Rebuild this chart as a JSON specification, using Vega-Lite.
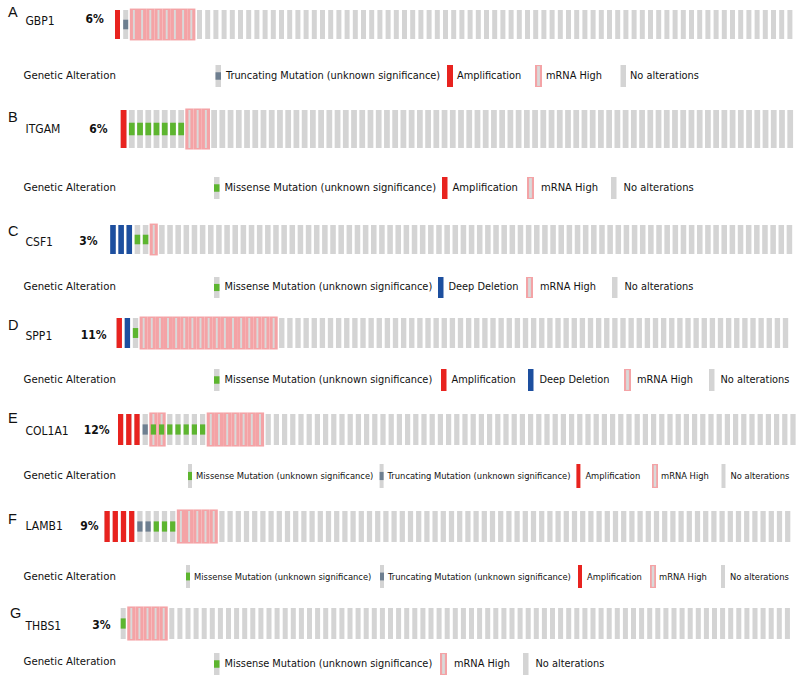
{
"$schema": "https://vega.github.io/schema/vega-lite/v6.json",
"background": "white",
"padding": {"left": 8, "top": 0, "right": 0, "bottom": 0},
"spacing": 0,
"bounds": "flush",
"config": {"view": {"stroke": null}, "axis": {"ticks": false, "tickSize": 0, "domain": false, "grid": false}},
"datasets": {
"A": [{"id":0,"cna":"Amplification"},{"id":1,"mut":"Truncating"},{"id":2,"mrna":"mRNA High"},{"id":3,"mrna":"mRNA High"},{"id":4,"mrna":"mRNA High"},{"id":5,"mrna":"mRNA High"},{"id":6,"mrna":"mRNA High"},{"id":7,"mrna":"mRNA High"},{"id":8,"mrna":"mRNA High"},{"id":9,"mrna":"mRNA High"},{"id":10},{"id":11},{"id":12},{"id":13},{"id":14},{"id":15},{"id":16},{"id":17},{"id":18},{"id":19},{"id":20},{"id":21},{"id":22},{"id":23},{"id":24},{"id":25},{"id":26},{"id":27},{"id":28},{"id":29},{"id":30},{"id":31},{"id":32},{"id":33},{"id":34},{"id":35},{"id":36},{"id":37},{"id":38},{"id":39},{"id":40},{"id":41},{"id":42},{"id":43},{"id":44},{"id":45},{"id":46},{"id":47},{"id":48},{"id":49},{"id":50},{"id":51},{"id":52},{"id":53},{"id":54},{"id":55},{"id":56},{"id":57},{"id":58},{"id":59},{"id":60},{"id":61},{"id":62},{"id":63},{"id":64},{"id":65},{"id":66},{"id":67},{"id":68},{"id":69},{"id":70},{"id":71},{"id":72},{"id":73},{"id":74},{"id":75},{"id":76},{"id":77},{"id":78},{"id":79},{"id":80},{"id":81},{"id":82}],
"B": [{"id":0,"cna":"Amplification"},{"id":1,"mut":"Missense"},{"id":2,"mut":"Missense"},{"id":3,"mut":"Missense"},{"id":4,"mut":"Missense"},{"id":5,"mut":"Missense"},{"id":6,"mut":"Missense"},{"id":7,"mut":"Missense"},{"id":8,"mrna":"mRNA High"},{"id":9,"mrna":"mRNA High"},{"id":10,"mrna":"mRNA High"},{"id":11},{"id":12},{"id":13},{"id":14},{"id":15},{"id":16},{"id":17},{"id":18},{"id":19},{"id":20},{"id":21},{"id":22},{"id":23},{"id":24},{"id":25},{"id":26},{"id":27},{"id":28},{"id":29},{"id":30},{"id":31},{"id":32},{"id":33},{"id":34},{"id":35},{"id":36},{"id":37},{"id":38},{"id":39},{"id":40},{"id":41},{"id":42},{"id":43},{"id":44},{"id":45},{"id":46},{"id":47},{"id":48},{"id":49},{"id":50},{"id":51},{"id":52},{"id":53},{"id":54},{"id":55},{"id":56},{"id":57},{"id":58},{"id":59},{"id":60},{"id":61},{"id":62},{"id":63},{"id":64},{"id":65},{"id":66},{"id":67},{"id":68},{"id":69},{"id":70},{"id":71},{"id":72},{"id":73},{"id":74},{"id":75},{"id":76},{"id":77},{"id":78},{"id":79},{"id":80},{"id":81}],
"C": [{"id":0,"cna":"Deep Deletion"},{"id":1,"cna":"Deep Deletion"},{"id":2,"cna":"Deep Deletion"},{"id":3,"mut":"Missense"},{"id":4,"mut":"Missense"},{"id":5,"mrna":"mRNA High"},{"id":6},{"id":7},{"id":8},{"id":9},{"id":10},{"id":11},{"id":12},{"id":13},{"id":14},{"id":15},{"id":16},{"id":17},{"id":18},{"id":19},{"id":20},{"id":21},{"id":22},{"id":23},{"id":24},{"id":25},{"id":26},{"id":27},{"id":28},{"id":29},{"id":30},{"id":31},{"id":32},{"id":33},{"id":34},{"id":35},{"id":36},{"id":37},{"id":38},{"id":39},{"id":40},{"id":41},{"id":42},{"id":43},{"id":44},{"id":45},{"id":46},{"id":47},{"id":48},{"id":49},{"id":50},{"id":51},{"id":52},{"id":53},{"id":54},{"id":55},{"id":56},{"id":57},{"id":58},{"id":59},{"id":60},{"id":61},{"id":62},{"id":63},{"id":64},{"id":65},{"id":66},{"id":67},{"id":68},{"id":69},{"id":70},{"id":71},{"id":72},{"id":73},{"id":74},{"id":75},{"id":76},{"id":77},{"id":78},{"id":79},{"id":80},{"id":81},{"id":82},{"id":83}],
"D": [{"id":0,"cna":"Amplification"},{"id":1,"cna":"Deep Deletion"},{"id":2,"mut":"Missense"},{"id":3,"mrna":"mRNA High"},{"id":4,"mrna":"mRNA High"},{"id":5,"mrna":"mRNA High"},{"id":6,"mrna":"mRNA High"},{"id":7,"mrna":"mRNA High"},{"id":8,"mrna":"mRNA High"},{"id":9,"mrna":"mRNA High"},{"id":10,"mrna":"mRNA High"},{"id":11,"mrna":"mRNA High"},{"id":12,"mrna":"mRNA High"},{"id":13,"mrna":"mRNA High"},{"id":14,"mrna":"mRNA High"},{"id":15,"mrna":"mRNA High"},{"id":16,"mrna":"mRNA High"},{"id":17,"mrna":"mRNA High"},{"id":18,"mrna":"mRNA High"},{"id":19,"mrna":"mRNA High"},{"id":20},{"id":21},{"id":22},{"id":23},{"id":24},{"id":25},{"id":26},{"id":27},{"id":28},{"id":29},{"id":30},{"id":31},{"id":32},{"id":33},{"id":34},{"id":35},{"id":36},{"id":37},{"id":38},{"id":39},{"id":40},{"id":41},{"id":42},{"id":43},{"id":44},{"id":45},{"id":46},{"id":47},{"id":48},{"id":49},{"id":50},{"id":51},{"id":52},{"id":53},{"id":54},{"id":55},{"id":56},{"id":57},{"id":58},{"id":59},{"id":60},{"id":61},{"id":62},{"id":63},{"id":64},{"id":65},{"id":66},{"id":67},{"id":68},{"id":69},{"id":70},{"id":71},{"id":72},{"id":73},{"id":74},{"id":75},{"id":76},{"id":77},{"id":78},{"id":79},{"id":80},{"id":81},{"id":82}],
"E": [{"id":0,"cna":"Amplification"},{"id":1,"cna":"Amplification"},{"id":2,"cna":"Amplification"},{"id":3,"mut":"Truncating"},{"id":4,"mut":"Missense","mrna":"mRNA High"},{"id":5,"mut":"Missense","mrna":"mRNA High"},{"id":6,"mut":"Missense"},{"id":7,"mut":"Missense"},{"id":8,"mut":"Missense"},{"id":9,"mut":"Missense"},{"id":10,"mut":"Missense"},{"id":11,"mrna":"mRNA High"},{"id":12,"mrna":"mRNA High"},{"id":13,"mrna":"mRNA High"},{"id":14,"mrna":"mRNA High"},{"id":15,"mrna":"mRNA High"},{"id":16,"mrna":"mRNA High"},{"id":17,"mrna":"mRNA High"},{"id":18},{"id":19},{"id":20},{"id":21},{"id":22},{"id":23},{"id":24},{"id":25},{"id":26},{"id":27},{"id":28},{"id":29},{"id":30},{"id":31},{"id":32},{"id":33},{"id":34},{"id":35},{"id":36},{"id":37},{"id":38},{"id":39},{"id":40},{"id":41},{"id":42},{"id":43},{"id":44},{"id":45},{"id":46},{"id":47},{"id":48},{"id":49},{"id":50},{"id":51},{"id":52},{"id":53},{"id":54},{"id":55},{"id":56},{"id":57},{"id":58},{"id":59},{"id":60},{"id":61},{"id":62},{"id":63},{"id":64},{"id":65},{"id":66},{"id":67},{"id":68},{"id":69},{"id":70},{"id":71},{"id":72},{"id":73},{"id":74},{"id":75},{"id":76},{"id":77},{"id":78},{"id":79},{"id":80},{"id":81},{"id":82}],
"F": [{"id":0,"cna":"Amplification"},{"id":1,"cna":"Amplification"},{"id":2,"cna":"Amplification"},{"id":3,"cna":"Amplification"},{"id":4,"mut":"Truncating"},{"id":5,"mut":"Truncating"},{"id":6,"mut":"Missense"},{"id":7,"mut":"Missense"},{"id":8,"mut":"Missense"},{"id":9,"mrna":"mRNA High"},{"id":10,"mrna":"mRNA High"},{"id":11,"mrna":"mRNA High"},{"id":12,"mrna":"mRNA High"},{"id":13,"mrna":"mRNA High"},{"id":14},{"id":15},{"id":16},{"id":17},{"id":18},{"id":19},{"id":20},{"id":21},{"id":22},{"id":23},{"id":24},{"id":25},{"id":26},{"id":27},{"id":28},{"id":29},{"id":30},{"id":31},{"id":32},{"id":33},{"id":34},{"id":35},{"id":36},{"id":37},{"id":38},{"id":39},{"id":40},{"id":41},{"id":42},{"id":43},{"id":44},{"id":45},{"id":46},{"id":47},{"id":48},{"id":49},{"id":50},{"id":51},{"id":52},{"id":53},{"id":54},{"id":55},{"id":56},{"id":57},{"id":58},{"id":59},{"id":60},{"id":61},{"id":62},{"id":63},{"id":64},{"id":65},{"id":66},{"id":67},{"id":68},{"id":69},{"id":70},{"id":71},{"id":72},{"id":73},{"id":74},{"id":75},{"id":76},{"id":77},{"id":78},{"id":79},{"id":80},{"id":81},{"id":82},{"id":83}],
"G": [{"id":0,"mut":"Missense"},{"id":1,"mrna":"mRNA High"},{"id":2,"mrna":"mRNA High"},{"id":3,"mrna":"mRNA High"},{"id":4,"mrna":"mRNA High"},{"id":5,"mrna":"mRNA High"},{"id":6},{"id":7},{"id":8},{"id":9},{"id":10},{"id":11},{"id":12},{"id":13},{"id":14},{"id":15},{"id":16},{"id":17},{"id":18},{"id":19},{"id":20},{"id":21},{"id":22},{"id":23},{"id":24},{"id":25},{"id":26},{"id":27},{"id":28},{"id":29},{"id":30},{"id":31},{"id":32},{"id":33},{"id":34},{"id":35},{"id":36},{"id":37},{"id":38},{"id":39},{"id":40},{"id":41},{"id":42},{"id":43},{"id":44},{"id":45},{"id":46},{"id":47},{"id":48},{"id":49},{"id":50},{"id":51},{"id":52},{"id":53},{"id":54},{"id":55},{"id":56},{"id":57},{"id":58},{"id":59},{"id":60},{"id":61},{"id":62},{"id":63},{"id":64},{"id":65},{"id":66},{"id":67},{"id":68},{"id":69},{"id":70},{"id":71},{"id":72},{"id":73},{"id":74},{"id":75},{"id":76},{"id":77},{"id":78},{"id":79},{"id":80},{"id":81},{"id":82}]
},
"vconcat": [
{"width": 691, "height": 39, "data": {"name": "A"},
 "title": {"text": "A", "anchor": "start", "frame": "group", "orient": "top", "offset": 0, "dx": -95, "dy": 31.7, "baseline": "alphabetic", "font": "Liberation Sans", "fontSize": 14.5, "fontWeight": "normal", "color": "#111"},
 "encoding": {"x": {"field": "id", "type": "ordinal", "axis": null, "scale": {"paddingInner": 0, "paddingOuter": 0.634, "align": 1}},
  "y": {"datum": "6%", "type": "nominal", "scale": {"paddingInner": 0, "paddingOuter": 0.1724, "align": 1}, "axis": {"title": "GBP1", "titleAngle": 0, "titleAlign": "left", "titleBaseline": "middle", "titleX": -78, "titleY": 20, "titleFont": "Liberation Sans Narrow, DejaVu Sans Condensed, sans-serif", "titleFontSize": 12, "titleFontWeight": "normal", "titleColor": "#111", "labelFont": "Liberation Sans Narrow, DejaVu Sans Condensed, sans-serif", "labelFontSize": 12, "labelFontWeight": "bold", "labelColor": "#111", "labelPadding": -0.3, "labelOffset": -5}}},
 "layer": [
  {"mark": {"type": "rect", "width": {"band": 0.61}, "color": "#d4d4d4"}},
  {"transform": [{"filter": "datum.mrna"}], "mark": {"type": "rect", "height": {"band": 1.1}}, "encoding": {"color": {"field": "mrna", "type": "nominal", "scale": {"domain": ["Missense","Truncating","Amplification","Deep Deletion","mRNA High","No alterations"], "range": ["#5db52f","#6e7f90","#e8231f","#1d4f9f","#f4a3a6","#d4d4d4"]}, "legend": null}}},
  {"transform": [{"filter": "datum.mrna"}], "mark": {"type": "rect", "width": {"band": 0.24}, "color": "#d9d9d9"}},
  {"transform": [{"filter": "datum.cna"}], "mark": {"type": "rect", "width": {"band": 0.61}}, "encoding": {"color": {"field": "cna", "type": "nominal", "scale": {"domain": ["Missense","Truncating","Amplification","Deep Deletion","mRNA High","No alterations"], "range": ["#5db52f","#6e7f90","#e8231f","#1d4f9f","#f4a3a6","#d4d4d4"]}, "legend": null}}},
  {"transform": [{"filter": "datum.mut"}], "mark": {"type": "rect", "width": {"band": 0.61}, "height": {"band": 0.33}}, "encoding": {"color": {"field": "mut", "type": "nominal", "scale": {"domain": ["Missense","Truncating","Amplification","Deep Deletion","mRNA High","No alterations"], "range": ["#5db52f","#6e7f90","#e8231f","#1d4f9f","#f4a3a6","#d4d4d4"]}, "legend": null}}}
 ]},
{"width": 690, "height": 48,
 "encoding": {"y": {"datum": "Genetic Alteration", "type": "nominal", "scale": {"paddingInner": 0, "paddingOuter": 0.5909, "align": 1}, "axis": {"title": null, "labelAlign": "left", "labelPadding": 80, "labelLimit": 0, "labelFont": "Liberation Sans Narrow, DejaVu Sans Condensed, sans-serif", "labelFontSize": 11.3, "labelColor": "#111"}}},
 "resolve": {"scale": {"x": "independent"}},
 "layer": [
  {"data": {"values": [{"alt": "Truncating", "label": "Truncating Mutation (unknown significance)"}]},
   "encoding": {"x": {"field": "alt", "type": "nominal", "axis": null, "scale": {"paddingInner": 0.98393, "paddingOuter": 1, "align": 0.16435}}},
   "layer": [
    {"mark": {"type": "rect", "color": "#d4d4d4"}},
    {"mark": {"type": "rect", "height": {"band": 0.34}}, "encoding": {"color": {"field": "alt", "type": "nominal", "scale": {"domain": ["Missense","Truncating","Amplification","Deep Deletion","mRNA High","No alterations"], "range": ["#5db52f","#6e7f90","#e8231f","#1d4f9f","#f4a3a6","#d4d4d4"]}, "legend": null}}},
    {"mark": {"type": "text", "align": "left", "baseline": "middle", "dx": 5, "font": "Liberation Sans Narrow, DejaVu Sans Condensed, sans-serif", "fontSize": 10.9, "color": "#111"}, "encoding": {"x": {"field": "alt", "type": "nominal", "bandPosition": 1}, "text": {"field": "label"}}}
   ]},
  {"data": {"values": [{"alt": "Amplification", "label": "Amplification"}]},
   "encoding": {"x": {"field": "alt", "type": "nominal", "axis": null, "scale": {"paddingInner": 0.982456, "paddingOuter": 1, "align": 0.50292}}},
   "layer": [
    {"mark": {"type": "rect"}, "encoding": {"color": {"field": "alt", "type": "nominal", "scale": {"domain": ["Missense","Truncating","Amplification","Deep Deletion","mRNA High","No alterations"], "range": ["#5db52f","#6e7f90","#e8231f","#1d4f9f","#f4a3a6","#d4d4d4"]}, "legend": null}}},
    {"mark": {"type": "text", "align": "left", "baseline": "middle", "dx": 4, "font": "Liberation Sans Narrow, DejaVu Sans Condensed, sans-serif", "fontSize": 10.9, "color": "#111"}, "encoding": {"x": {"field": "alt", "type": "nominal", "bandPosition": 1}, "text": {"field": "label"}}}
   ]},
  {"data": {"values": [{"alt": "mRNA High", "label": "mRNA High"}]},
   "encoding": {"x": {"field": "alt", "type": "nominal", "axis": null, "scale": {"paddingInner": 0.979502, "paddingOuter": 1, "align": 0.6325}}},
   "layer": [
    {"mark": {"type": "rect"}, "encoding": {"color": {"field": "alt", "type": "nominal", "scale": {"domain": ["Missense","Truncating","Amplification","Deep Deletion","mRNA High","No alterations"], "range": ["#5db52f","#6e7f90","#e8231f","#1d4f9f","#f4a3a6","#d4d4d4"]}, "legend": null}}},
    {"mark": {"type": "rect", "width": {"band": 0.4}, "height": {"band": 0.9}, "color": "#d9d9d9"}},
    {"mark": {"type": "text", "align": "left", "baseline": "middle", "dx": 4, "font": "Liberation Sans Narrow, DejaVu Sans Condensed, sans-serif", "fontSize": 10.9, "color": "#111"}, "encoding": {"x": {"field": "alt", "type": "nominal", "bandPosition": 1}, "text": {"field": "label"}}}
   ]},
  {"data": {"values": [{"alt": "No alterations", "label": "No alterations"}]},
   "encoding": {"x": {"field": "alt", "type": "nominal", "axis": null, "scale": {"paddingInner": 0.98393, "paddingOuter": 1, "align": 0.75603}}},
   "layer": [
    {"mark": {"type": "rect"}, "encoding": {"color": {"field": "alt", "type": "nominal", "scale": {"domain": ["Missense","Truncating","Amplification","Deep Deletion","mRNA High","No alterations"], "range": ["#5db52f","#6e7f90","#e8231f","#1d4f9f","#f4a3a6","#d4d4d4"]}, "legend": null}}},
    {"mark": {"type": "text", "align": "left", "baseline": "middle", "dx": 4, "font": "Liberation Sans Narrow, DejaVu Sans Condensed, sans-serif", "fontSize": 10.9, "color": "#111"}, "encoding": {"x": {"field": "alt", "type": "nominal", "bandPosition": 1}, "text": {"field": "label"}}}
   ]}
 ]},
{"width": 691.32, "height": 61, "data": {"name": "B"},
 "title": {"text": "B", "anchor": "start", "frame": "group", "orient": "top", "offset": 0, "dx": -95, "dy": 49.4, "baseline": "alphabetic", "font": "Liberation Sans", "fontSize": 14.5, "fontWeight": "normal", "color": "#111"},
 "encoding": {"x": {"field": "id", "type": "ordinal", "axis": null, "scale": {"paddingInner": 0, "paddingOuter": 1, "align": 1}},
  "y": {"datum": "6%", "type": "nominal", "scale": {"paddingInner": 0, "paddingOuter": 0.3026, "align": 1}, "axis": {"title": "ITGAM", "titleAngle": 0, "titleAlign": "left", "titleBaseline": "middle", "titleX": -78, "titleY": 41, "titleFont": "Liberation Sans Narrow, DejaVu Sans Condensed, sans-serif", "titleFontSize": 12, "titleFontWeight": "normal", "titleColor": "#111", "labelFont": "Liberation Sans Narrow, DejaVu Sans Condensed, sans-serif", "labelFontSize": 12, "labelFontWeight": "bold", "labelColor": "#111", "labelPadding": -4, "labelOffset": 0}}},
 "layer": [
  {"mark": {"type": "rect", "width": {"band": 0.7}, "color": "#d4d4d4"}},
  {"transform": [{"filter": "datum.mrna"}], "mark": {"type": "rect", "height": {"band": 1.08}}, "encoding": {"color": {"field": "mrna", "type": "nominal", "scale": {"domain": ["Missense","Truncating","Amplification","Deep Deletion","mRNA High","No alterations"], "range": ["#5db52f","#6e7f90","#e8231f","#1d4f9f","#f4a3a6","#d4d4d4"]}, "legend": null}}},
  {"transform": [{"filter": "datum.mrna"}], "mark": {"type": "rect", "width": {"band": 0.24}, "color": "#d9d9d9"}},
  {"transform": [{"filter": "datum.cna"}], "mark": {"type": "rect", "width": {"band": 0.7}}, "encoding": {"color": {"field": "cna", "type": "nominal", "scale": {"domain": ["Missense","Truncating","Amplification","Deep Deletion","mRNA High","No alterations"], "range": ["#5db52f","#6e7f90","#e8231f","#1d4f9f","#f4a3a6","#d4d4d4"]}, "legend": null}}},
  {"transform": [{"filter": "datum.mut"}], "mark": {"type": "rect", "width": {"band": 0.7}, "height": {"band": 0.33}}, "encoding": {"color": {"field": "mut", "type": "nominal", "scale": {"domain": ["Missense","Truncating","Amplification","Deep Deletion","mRNA High","No alterations"], "range": ["#5db52f","#6e7f90","#e8231f","#1d4f9f","#f4a3a6","#d4d4d4"]}, "legend": null}}}
 ]},
{"width": 690, "height": 51,
 "encoding": {"y": {"datum": "Genetic Alteration", "type": "nominal", "scale": {"paddingInner": 0, "paddingOuter": 0.6591, "align": 1}, "axis": {"title": null, "labelAlign": "left", "labelPadding": 80, "labelLimit": 0, "labelFont": "Liberation Sans Narrow, DejaVu Sans Condensed, sans-serif", "labelFontSize": 11.3, "labelColor": "#111"}}},
 "resolve": {"scale": {"x": "independent"}},
 "layer": [
  {"data": {"values": [{"alt": "Missense", "label": "Missense Mutation (unknown significance)"}]},
   "encoding": {"x": {"field": "alt", "type": "nominal", "axis": null, "scale": {"paddingInner": 0.98393, "paddingOuter": 1, "align": 0.16216}}},
   "layer": [
    {"mark": {"type": "rect", "color": "#d4d4d4"}},
    {"mark": {"type": "rect", "height": {"band": 0.34}}, "encoding": {"color": {"field": "alt", "type": "nominal", "scale": {"domain": ["Missense","Truncating","Amplification","Deep Deletion","mRNA High","No alterations"], "range": ["#5db52f","#6e7f90","#e8231f","#1d4f9f","#f4a3a6","#d4d4d4"]}, "legend": null}}},
    {"mark": {"type": "text", "align": "left", "baseline": "middle", "dx": 5, "font": "Liberation Sans Narrow, DejaVu Sans Condensed, sans-serif", "fontSize": 11.1, "color": "#111"}, "encoding": {"x": {"field": "alt", "type": "nominal", "bandPosition": 1}, "text": {"field": "label"}}}
   ]},
  {"data": {"values": [{"alt": "Amplification", "label": "Amplification"}]},
   "encoding": {"x": {"field": "alt", "type": "nominal", "axis": null, "scale": {"paddingInner": 0.98393, "paddingOuter": 1, "align": 0.49525}}},
   "layer": [
    {"mark": {"type": "rect"}, "encoding": {"color": {"field": "alt", "type": "nominal", "scale": {"domain": ["Missense","Truncating","Amplification","Deep Deletion","mRNA High","No alterations"], "range": ["#5db52f","#6e7f90","#e8231f","#1d4f9f","#f4a3a6","#d4d4d4"]}, "legend": null}}},
    {"mark": {"type": "text", "align": "left", "baseline": "middle", "dx": 5, "font": "Liberation Sans Narrow, DejaVu Sans Condensed, sans-serif", "fontSize": 11.1, "color": "#111"}, "encoding": {"x": {"field": "alt", "type": "nominal", "bandPosition": 1}, "text": {"field": "label"}}}
   ]},
  {"data": {"values": [{"alt": "mRNA High", "label": "mRNA High"}]},
   "encoding": {"x": {"field": "alt", "type": "nominal", "axis": null, "scale": {"paddingInner": 0.979502, "paddingOuter": 1, "align": 0.62079}}},
   "layer": [
    {"mark": {"type": "rect"}, "encoding": {"color": {"field": "alt", "type": "nominal", "scale": {"domain": ["Missense","Truncating","Amplification","Deep Deletion","mRNA High","No alterations"], "range": ["#5db52f","#6e7f90","#e8231f","#1d4f9f","#f4a3a6","#d4d4d4"]}, "legend": null}}},
    {"mark": {"type": "rect", "width": {"band": 0.4}, "height": {"band": 0.9}, "color": "#d9d9d9"}},
    {"mark": {"type": "text", "align": "left", "baseline": "middle", "dx": 7, "font": "Liberation Sans Narrow, DejaVu Sans Condensed, sans-serif", "fontSize": 11.1, "color": "#111"}, "encoding": {"x": {"field": "alt", "type": "nominal", "bandPosition": 1}, "text": {"field": "label"}}}
   ]},
  {"data": {"values": [{"alt": "No alterations", "label": "No alterations"}]},
   "encoding": {"x": {"field": "alt", "type": "nominal", "axis": null, "scale": {"paddingInner": 0.98393, "paddingOuter": 1, "align": 0.74215}}},
   "layer": [
    {"mark": {"type": "rect"}, "encoding": {"color": {"field": "alt", "type": "nominal", "scale": {"domain": ["Missense","Truncating","Amplification","Deep Deletion","mRNA High","No alterations"], "range": ["#5db52f","#6e7f90","#e8231f","#1d4f9f","#f4a3a6","#d4d4d4"]}, "legend": null}}},
    {"mark": {"type": "text", "align": "left", "baseline": "middle", "dx": 7, "font": "Liberation Sans Narrow, DejaVu Sans Condensed, sans-serif", "fontSize": 11.1, "color": "#111"}, "encoding": {"x": {"field": "alt", "type": "nominal", "bandPosition": 1}, "text": {"field": "label"}}}
   ]}
 ]},
{"width": 690.5, "height": 55, "data": {"name": "C"},
 "title": {"text": "C", "anchor": "start", "frame": "group", "orient": "top", "offset": 0, "dx": -95, "dy": 51.4, "baseline": "alphabetic", "font": "Liberation Sans", "fontSize": 14.5, "fontWeight": "normal", "color": "#111"},
 "encoding": {"x": {"field": "id", "type": "ordinal", "axis": null, "scale": {"paddingInner": 0, "paddingOuter": 0.362, "align": 1}},
  "y": {"datum": "3%", "type": "nominal", "scale": {"paddingInner": 0, "paddingOuter": 0.4483, "align": 1}, "axis": {"title": "CSF1", "titleAngle": 0, "titleAlign": "left", "titleBaseline": "middle", "titleX": -78, "titleY": 42, "titleFont": "Liberation Sans Narrow, DejaVu Sans Condensed, sans-serif", "titleFontSize": 12, "titleFontWeight": "normal", "titleColor": "#111", "labelFont": "Liberation Sans Narrow, DejaVu Sans Condensed, sans-serif", "labelFontSize": 12, "labelFontWeight": "bold", "labelColor": "#111", "labelPadding": 6, "labelOffset": 1}}},
 "layer": [
  {"mark": {"type": "rect", "width": {"band": 0.68}, "color": "#d4d4d4"}},
  {"transform": [{"filter": "datum.mrna"}], "mark": {"type": "rect", "height": {"band": 1.1}}, "encoding": {"color": {"field": "mrna", "type": "nominal", "scale": {"domain": ["Missense","Truncating","Amplification","Deep Deletion","mRNA High","No alterations"], "range": ["#5db52f","#6e7f90","#e8231f","#1d4f9f","#f4a3a6","#d4d4d4"]}, "legend": null}}},
  {"transform": [{"filter": "datum.mrna"}], "mark": {"type": "rect", "width": {"band": 0.24}, "color": "#d9d9d9"}},
  {"transform": [{"filter": "datum.cna"}], "mark": {"type": "rect", "width": {"band": 0.68}}, "encoding": {"color": {"field": "cna", "type": "nominal", "scale": {"domain": ["Missense","Truncating","Amplification","Deep Deletion","mRNA High","No alterations"], "range": ["#5db52f","#6e7f90","#e8231f","#1d4f9f","#f4a3a6","#d4d4d4"]}, "legend": null}}},
  {"transform": [{"filter": "datum.mut"}], "mark": {"type": "rect", "width": {"band": 0.68}, "height": {"band": 0.33}}, "encoding": {"color": {"field": "mut", "type": "nominal", "scale": {"domain": ["Missense","Truncating","Amplification","Deep Deletion","mRNA High","No alterations"], "range": ["#5db52f","#6e7f90","#e8231f","#1d4f9f","#f4a3a6","#d4d4d4"]}, "legend": null}}}
 ]},
{"width": 690, "height": 44,
 "encoding": {"y": {"datum": "Genetic Alteration", "type": "nominal", "scale": {"paddingInner": 0, "paddingOuter": 0.5476, "align": 1}, "axis": {"title": null, "labelAlign": "left", "labelPadding": 80, "labelLimit": 0, "labelFont": "Liberation Sans Narrow, DejaVu Sans Condensed, sans-serif", "labelFontSize": 11.3, "labelColor": "#111"}}},
 "resolve": {"scale": {"x": "independent"}},
 "layer": [
  {"data": {"values": [{"alt": "Missense", "label": "Missense Mutation (unknown significance)"}]},
   "encoding": {"x": {"field": "alt", "type": "nominal", "axis": null, "scale": {"paddingInner": 0.98393, "paddingOuter": 1, "align": 0.16216}}},
   "layer": [
    {"mark": {"type": "rect", "color": "#d4d4d4"}},
    {"mark": {"type": "rect", "height": {"band": 0.34}}, "encoding": {"color": {"field": "alt", "type": "nominal", "scale": {"domain": ["Missense","Truncating","Amplification","Deep Deletion","mRNA High","No alterations"], "range": ["#5db52f","#6e7f90","#e8231f","#1d4f9f","#f4a3a6","#d4d4d4"]}, "legend": null}}},
    {"mark": {"type": "text", "align": "left", "baseline": "middle", "dx": 5, "font": "Liberation Sans Narrow, DejaVu Sans Condensed, sans-serif", "fontSize": 10.9, "color": "#111"}, "encoding": {"x": {"field": "alt", "type": "nominal", "bandPosition": 1}, "text": {"field": "label"}}}
   ]},
  {"data": {"values": [{"alt": "Deep Deletion", "label": "Deep Deletion"}]},
   "encoding": {"x": {"field": "alt", "type": "nominal", "axis": null, "scale": {"paddingInner": 0.98393, "paddingOuter": 1, "align": 0.48941}}},
   "layer": [
    {"mark": {"type": "rect"}, "encoding": {"color": {"field": "alt", "type": "nominal", "scale": {"domain": ["Missense","Truncating","Amplification","Deep Deletion","mRNA High","No alterations"], "range": ["#5db52f","#6e7f90","#e8231f","#1d4f9f","#f4a3a6","#d4d4d4"]}, "legend": null}}},
    {"mark": {"type": "text", "align": "left", "baseline": "middle", "dx": 5, "font": "Liberation Sans Narrow, DejaVu Sans Condensed, sans-serif", "fontSize": 10.9, "color": "#111"}, "encoding": {"x": {"field": "alt", "type": "nominal", "bandPosition": 1}, "text": {"field": "label"}}}
   ]},
  {"data": {"values": [{"alt": "mRNA High", "label": "mRNA High"}]},
   "encoding": {"x": {"field": "alt", "type": "nominal", "axis": null, "scale": {"paddingInner": 0.979502, "paddingOuter": 1, "align": 0.61933}}},
   "layer": [
    {"mark": {"type": "rect"}, "encoding": {"color": {"field": "alt", "type": "nominal", "scale": {"domain": ["Missense","Truncating","Amplification","Deep Deletion","mRNA High","No alterations"], "range": ["#5db52f","#6e7f90","#e8231f","#1d4f9f","#f4a3a6","#d4d4d4"]}, "legend": null}}},
    {"mark": {"type": "rect", "width": {"band": 0.4}, "height": {"band": 0.9}, "color": "#d9d9d9"}},
    {"mark": {"type": "text", "align": "left", "baseline": "middle", "dx": 7, "font": "Liberation Sans Narrow, DejaVu Sans Condensed, sans-serif", "fontSize": 10.9, "color": "#111"}, "encoding": {"x": {"field": "alt", "type": "nominal", "bandPosition": 1}, "text": {"field": "label"}}}
   ]},
  {"data": {"values": [{"alt": "No alterations", "label": "No alterations"}]},
   "encoding": {"x": {"field": "alt", "type": "nominal", "axis": null, "scale": {"paddingInner": 0.98393, "paddingOuter": 1, "align": 0.74361}}},
   "layer": [
    {"mark": {"type": "rect"}, "encoding": {"color": {"field": "alt", "type": "nominal", "scale": {"domain": ["Missense","Truncating","Amplification","Deep Deletion","mRNA High","No alterations"], "range": ["#5db52f","#6e7f90","#e8231f","#1d4f9f","#f4a3a6","#d4d4d4"]}, "legend": null}}},
    {"mark": {"type": "text", "align": "left", "baseline": "middle", "dx": 7, "font": "Liberation Sans Narrow, DejaVu Sans Condensed, sans-serif", "fontSize": 10.9, "color": "#111"}, "encoding": {"x": {"field": "alt", "type": "nominal", "bandPosition": 1}, "text": {"field": "label"}}}
   ]}
 ]},
{"width": 686.575, "height": 50, "data": {"name": "D"},
 "title": {"text": "D", "anchor": "start", "frame": "group", "orient": "top", "offset": 0, "dx": -95, "dy": 46.4, "baseline": "alphabetic", "font": "Liberation Sans", "fontSize": 14.5, "fontWeight": "normal", "color": "#111"},
 "encoding": {"x": {"field": "id", "type": "ordinal", "axis": null, "scale": {"paddingInner": 0, "paddingOuter": 0.751, "align": 1}},
  "y": {"datum": "11%", "type": "nominal", "scale": {"paddingInner": 0, "paddingOuter": 0.3333, "align": 1}, "axis": {"title": "SPP1", "titleAngle": 0, "titleAlign": "left", "titleBaseline": "middle", "titleX": -78, "titleY": 37, "titleFont": "Liberation Sans Narrow, DejaVu Sans Condensed, sans-serif", "titleFontSize": 12, "titleFontWeight": "normal", "titleColor": "#111", "labelFont": "Liberation Sans Narrow, DejaVu Sans Condensed, sans-serif", "labelFontSize": 12, "labelFontWeight": "bold", "labelColor": "#111", "labelPadding": -3, "labelOffset": 2}}},
 "layer": [
  {"mark": {"type": "rect", "width": {"band": 0.66}, "color": "#d4d4d4"}},
  {"transform": [{"filter": "datum.mrna"}], "mark": {"type": "rect", "height": {"band": 1.1}}, "encoding": {"color": {"field": "mrna", "type": "nominal", "scale": {"domain": ["Missense","Truncating","Amplification","Deep Deletion","mRNA High","No alterations"], "range": ["#5db52f","#6e7f90","#e8231f","#1d4f9f","#f4a3a6","#d4d4d4"]}, "legend": null}}},
  {"transform": [{"filter": "datum.mrna"}], "mark": {"type": "rect", "width": {"band": 0.24}, "color": "#d9d9d9"}},
  {"transform": [{"filter": "datum.cna"}], "mark": {"type": "rect", "width": {"band": 0.66}}, "encoding": {"color": {"field": "cna", "type": "nominal", "scale": {"domain": ["Missense","Truncating","Amplification","Deep Deletion","mRNA High","No alterations"], "range": ["#5db52f","#6e7f90","#e8231f","#1d4f9f","#f4a3a6","#d4d4d4"]}, "legend": null}}},
  {"transform": [{"filter": "datum.mut"}], "mark": {"type": "rect", "width": {"band": 0.66}, "height": {"band": 0.33}}, "encoding": {"color": {"field": "mut", "type": "nominal", "scale": {"domain": ["Missense","Truncating","Amplification","Deep Deletion","mRNA High","No alterations"], "range": ["#5db52f","#6e7f90","#e8231f","#1d4f9f","#f4a3a6","#d4d4d4"]}, "legend": null}}}
 ]},
{"width": 690, "height": 43,
 "encoding": {"y": {"datum": "Genetic Alteration", "type": "nominal", "scale": {"paddingInner": 0, "paddingOuter": 0.4773, "align": 1}, "axis": {"title": null, "labelAlign": "left", "labelPadding": 80, "labelLimit": 0, "labelFont": "Liberation Sans Narrow, DejaVu Sans Condensed, sans-serif", "labelFontSize": 11.3, "labelColor": "#111"}}},
 "resolve": {"scale": {"x": "independent"}},
 "layer": [
  {"data": {"values": [{"alt": "Missense", "label": "Missense Mutation (unknown significance)"}]},
   "encoding": {"x": {"field": "alt", "type": "nominal", "axis": null, "scale": {"paddingInner": 0.98393, "paddingOuter": 1, "align": 0.16216}}},
   "layer": [
    {"mark": {"type": "rect", "color": "#d4d4d4"}},
    {"mark": {"type": "rect", "height": {"band": 0.34}}, "encoding": {"color": {"field": "alt", "type": "nominal", "scale": {"domain": ["Missense","Truncating","Amplification","Deep Deletion","mRNA High","No alterations"], "range": ["#5db52f","#6e7f90","#e8231f","#1d4f9f","#f4a3a6","#d4d4d4"]}, "legend": null}}},
    {"mark": {"type": "text", "align": "left", "baseline": "middle", "dx": 5, "font": "Liberation Sans Narrow, DejaVu Sans Condensed, sans-serif", "fontSize": 10.9, "color": "#111"}, "encoding": {"x": {"field": "alt", "type": "nominal", "bandPosition": 1}, "text": {"field": "label"}}}
   ]},
  {"data": {"values": [{"alt": "Amplification", "label": "Amplification"}]},
   "encoding": {"x": {"field": "alt", "type": "nominal", "axis": null, "scale": {"paddingInner": 0.98393, "paddingOuter": 1, "align": 0.49379}}},
   "layer": [
    {"mark": {"type": "rect"}, "encoding": {"color": {"field": "alt", "type": "nominal", "scale": {"domain": ["Missense","Truncating","Amplification","Deep Deletion","mRNA High","No alterations"], "range": ["#5db52f","#6e7f90","#e8231f","#1d4f9f","#f4a3a6","#d4d4d4"]}, "legend": null}}},
    {"mark": {"type": "text", "align": "left", "baseline": "middle", "dx": 5, "font": "Liberation Sans Narrow, DejaVu Sans Condensed, sans-serif", "fontSize": 10.9, "color": "#111"}, "encoding": {"x": {"field": "alt", "type": "nominal", "bandPosition": 1}, "text": {"field": "label"}}}
   ]},
  {"data": {"values": [{"alt": "Deep Deletion", "label": "Deep Deletion"}]},
   "encoding": {"x": {"field": "alt", "type": "nominal", "axis": null, "scale": {"paddingInner": 0.98393, "paddingOuter": 1, "align": 0.62089}}},
   "layer": [
    {"mark": {"type": "rect"}, "encoding": {"color": {"field": "alt", "type": "nominal", "scale": {"domain": ["Missense","Truncating","Amplification","Deep Deletion","mRNA High","No alterations"], "range": ["#5db52f","#6e7f90","#e8231f","#1d4f9f","#f4a3a6","#d4d4d4"]}, "legend": null}}},
    {"mark": {"type": "text", "align": "left", "baseline": "middle", "dx": 6, "font": "Liberation Sans Narrow, DejaVu Sans Condensed, sans-serif", "fontSize": 10.9, "color": "#111"}, "encoding": {"x": {"field": "alt", "type": "nominal", "bandPosition": 1}, "text": {"field": "label"}}}
   ]},
  {"data": {"values": [{"alt": "mRNA High", "label": "mRNA High"}]},
   "encoding": {"x": {"field": "alt", "type": "nominal", "axis": null, "scale": {"paddingInner": 0.979502, "paddingOuter": 1, "align": 0.76281}}},
   "layer": [
    {"mark": {"type": "rect"}, "encoding": {"color": {"field": "alt", "type": "nominal", "scale": {"domain": ["Missense","Truncating","Amplification","Deep Deletion","mRNA High","No alterations"], "range": ["#5db52f","#6e7f90","#e8231f","#1d4f9f","#f4a3a6","#d4d4d4"]}, "legend": null}}},
    {"mark": {"type": "rect", "width": {"band": 0.4}, "height": {"band": 0.9}, "color": "#d9d9d9"}},
    {"mark": {"type": "text", "align": "left", "baseline": "middle", "dx": 6, "font": "Liberation Sans Narrow, DejaVu Sans Condensed, sans-serif", "fontSize": 10.9, "color": "#111"}, "encoding": {"x": {"field": "alt", "type": "nominal", "bandPosition": 1}, "text": {"field": "label"}}}
   ]},
  {"data": {"values": [{"alt": "No alterations", "label": "No alterations"}]},
   "encoding": {"x": {"field": "alt", "type": "nominal", "axis": null, "scale": {"paddingInner": 0.98393, "paddingOuter": 1, "align": 0.88532}}},
   "layer": [
    {"mark": {"type": "rect"}, "encoding": {"color": {"field": "alt", "type": "nominal", "scale": {"domain": ["Missense","Truncating","Amplification","Deep Deletion","mRNA High","No alterations"], "range": ["#5db52f","#6e7f90","#e8231f","#1d4f9f","#f4a3a6","#d4d4d4"]}, "legend": null}}},
    {"mark": {"type": "text", "align": "left", "baseline": "middle", "dx": 6, "font": "Liberation Sans Narrow, DejaVu Sans Condensed, sans-serif", "fontSize": 10.9, "color": "#111"}, "encoding": {"x": {"field": "alt", "type": "nominal", "bandPosition": 1}, "text": {"field": "label"}}}
   ]}
 ]},
{"width": 694.1, "height": 54, "data": {"name": "E"},
 "title": {"text": "E", "anchor": "start", "frame": "group", "orient": "top", "offset": 0, "dx": -95, "dy": 46.4, "baseline": "alphabetic", "font": "Liberation Sans", "fontSize": 14.5, "fontWeight": "normal", "color": "#111"},
 "encoding": {"x": {"field": "id", "type": "ordinal", "axis": null, "scale": {"paddingInner": 0, "paddingOuter": 0.823, "align": 1}},
  "y": {"datum": "12%", "type": "nominal", "scale": {"paddingInner": 0, "paddingOuter": 0.371, "align": 1}, "axis": {"title": "COL1A1", "titleAngle": 0, "titleAlign": "left", "titleBaseline": "middle", "titleX": -78, "titleY": 39, "titleFont": "Liberation Sans Narrow, DejaVu Sans Condensed, sans-serif", "titleFontSize": 12, "titleFontWeight": "normal", "titleColor": "#111", "labelFont": "Liberation Sans Narrow, DejaVu Sans Condensed, sans-serif", "labelFontSize": 12, "labelFontWeight": "bold", "labelColor": "#111", "labelPadding": -6, "labelOffset": 0}}},
 "layer": [
  {"mark": {"type": "rect", "width": {"band": 0.64}, "color": "#d4d4d4"}},
  {"transform": [{"filter": "datum.mrna"}], "mark": {"type": "rect", "height": {"band": 1.1}}, "encoding": {"color": {"field": "mrna", "type": "nominal", "scale": {"domain": ["Missense","Truncating","Amplification","Deep Deletion","mRNA High","No alterations"], "range": ["#5db52f","#6e7f90","#e8231f","#1d4f9f","#f4a3a6","#d4d4d4"]}, "legend": null}}},
  {"transform": [{"filter": "datum.mrna"}], "mark": {"type": "rect", "width": {"band": 0.24}, "color": "#d9d9d9"}},
  {"transform": [{"filter": "datum.cna"}], "mark": {"type": "rect", "width": {"band": 0.64}}, "encoding": {"color": {"field": "cna", "type": "nominal", "scale": {"domain": ["Missense","Truncating","Amplification","Deep Deletion","mRNA High","No alterations"], "range": ["#5db52f","#6e7f90","#e8231f","#1d4f9f","#f4a3a6","#d4d4d4"]}, "legend": null}}},
  {"transform": [{"filter": "datum.mut"}], "mark": {"type": "rect", "width": {"band": 0.64}, "height": {"band": 0.33}}, "encoding": {"color": {"field": "mut", "type": "nominal", "scale": {"domain": ["Missense","Truncating","Amplification","Deep Deletion","mRNA High","No alterations"], "range": ["#5db52f","#6e7f90","#e8231f","#1d4f9f","#f4a3a6","#d4d4d4"]}, "legend": null}}}
 ]},
{"width": 690, "height": 43,
 "encoding": {"y": {"datum": "Genetic Alteration", "type": "nominal", "scale": {"paddingInner": 0, "paddingOuter": 0.3958, "align": 1}, "axis": {"title": null, "labelAlign": "left", "labelPadding": 80, "labelLimit": 0, "labelFont": "Liberation Sans Narrow, DejaVu Sans Condensed, sans-serif", "labelFontSize": 11.3, "labelColor": "#111"}}},
 "resolve": {"scale": {"x": "independent"}},
 "layer": [
  {"data": {"values": [{"alt": "Missense", "label": "Missense Mutation (unknown significance)"}]},
   "encoding": {"x": {"field": "alt", "type": "nominal", "axis": null, "scale": {"paddingInner": 0.988338, "paddingOuter": 1, "align": 0.12391}}},
   "layer": [
    {"mark": {"type": "rect", "color": "#d4d4d4"}},
    {"mark": {"type": "rect", "height": {"band": 0.34}}, "encoding": {"color": {"field": "alt", "type": "nominal", "scale": {"domain": ["Missense","Truncating","Amplification","Deep Deletion","mRNA High","No alterations"], "range": ["#5db52f","#6e7f90","#e8231f","#1d4f9f","#f4a3a6","#d4d4d4"]}, "legend": null}}},
    {"mark": {"type": "text", "align": "left", "baseline": "middle", "dx": 4, "font": "Liberation Sans Narrow, DejaVu Sans Condensed, sans-serif", "fontSize": 9.3, "color": "#111"}, "encoding": {"x": {"field": "alt", "type": "nominal", "bandPosition": 1}, "text": {"field": "label"}}}
   ]},
  {"data": {"values": [{"alt": "Truncating", "label": "Truncating Mutation (unknown significance)"}]},
   "encoding": {"x": {"field": "alt", "type": "nominal", "axis": null, "scale": {"paddingInner": 0.988338, "paddingOuter": 1, "align": 0.40321}}},
   "layer": [
    {"mark": {"type": "rect", "color": "#d4d4d4"}},
    {"mark": {"type": "rect", "height": {"band": 0.34}}, "encoding": {"color": {"field": "alt", "type": "nominal", "scale": {"domain": ["Missense","Truncating","Amplification","Deep Deletion","mRNA High","No alterations"], "range": ["#5db52f","#6e7f90","#e8231f","#1d4f9f","#f4a3a6","#d4d4d4"]}, "legend": null}}},
    {"mark": {"type": "text", "align": "left", "baseline": "middle", "dx": 4, "font": "Liberation Sans Narrow, DejaVu Sans Condensed, sans-serif", "fontSize": 9.3, "color": "#111"}, "encoding": {"x": {"field": "alt", "type": "nominal", "bandPosition": 1}, "text": {"field": "label"}}}
   ]},
  {"data": {"values": [{"alt": "Amplification", "label": "Amplification"}]},
   "encoding": {"x": {"field": "alt", "type": "nominal", "axis": null, "scale": {"paddingInner": 0.988338, "paddingOuter": 1, "align": 0.69009}}},
   "layer": [
    {"mark": {"type": "rect"}, "encoding": {"color": {"field": "alt", "type": "nominal", "scale": {"domain": ["Missense","Truncating","Amplification","Deep Deletion","mRNA High","No alterations"], "range": ["#5db52f","#6e7f90","#e8231f","#1d4f9f","#f4a3a6","#d4d4d4"]}, "legend": null}}},
    {"mark": {"type": "text", "align": "left", "baseline": "middle", "dx": 5, "font": "Liberation Sans Narrow, DejaVu Sans Condensed, sans-serif", "fontSize": 9.3, "color": "#111"}, "encoding": {"x": {"field": "alt", "type": "nominal", "bandPosition": 1}, "text": {"field": "label"}}}
   ]},
  {"data": {"values": [{"alt": "mRNA High", "label": "mRNA High"}]},
   "encoding": {"x": {"field": "alt", "type": "nominal", "axis": null, "scale": {"paddingInner": 0.982456, "paddingOuter": 1, "align": 0.80263}}},
   "layer": [
    {"mark": {"type": "rect"}, "encoding": {"color": {"field": "alt", "type": "nominal", "scale": {"domain": ["Missense","Truncating","Amplification","Deep Deletion","mRNA High","No alterations"], "range": ["#5db52f","#6e7f90","#e8231f","#1d4f9f","#f4a3a6","#d4d4d4"]}, "legend": null}}},
    {"mark": {"type": "rect", "width": {"band": 0.4}, "height": {"band": 0.9}, "color": "#d9d9d9"}},
    {"mark": {"type": "text", "align": "left", "baseline": "middle", "dx": 3, "font": "Liberation Sans Narrow, DejaVu Sans Condensed, sans-serif", "fontSize": 9.3, "color": "#111"}, "encoding": {"x": {"field": "alt", "type": "nominal", "bandPosition": 1}, "text": {"field": "label"}}}
   ]},
  {"data": {"values": [{"alt": "No alterations", "label": "No alterations"}]},
   "encoding": {"x": {"field": "alt", "type": "nominal", "axis": null, "scale": {"paddingInner": 0.988338, "paddingOuter": 1, "align": 0.9016}}},
   "layer": [
    {"mark": {"type": "rect"}, "encoding": {"color": {"field": "alt", "type": "nominal", "scale": {"domain": ["Missense","Truncating","Amplification","Deep Deletion","mRNA High","No alterations"], "range": ["#5db52f","#6e7f90","#e8231f","#1d4f9f","#f4a3a6","#d4d4d4"]}, "legend": null}}},
    {"mark": {"type": "text", "align": "left", "baseline": "middle", "dx": 5, "font": "Liberation Sans Narrow, DejaVu Sans Condensed, sans-serif", "fontSize": 9.3, "color": "#111"}, "encoding": {"x": {"field": "alt", "type": "nominal", "bandPosition": 1}, "text": {"field": "label"}}}
   ]}
 ]},
{"width": 688.8, "height": 54, "data": {"name": "F"},
 "title": {"text": "F", "anchor": "start", "frame": "group", "orient": "top", "offset": 0, "dx": -95, "dy": 50.4, "baseline": "alphabetic", "font": "Liberation Sans", "fontSize": 14.5, "fontWeight": "normal", "color": "#111"},
 "encoding": {"x": {"field": "id", "type": "ordinal", "axis": null, "scale": {"paddingInner": 0, "paddingOuter": 0, "align": 1}},
  "y": {"datum": "9%", "type": "nominal", "scale": {"paddingInner": 0, "paddingOuter": 0.371, "align": 1}, "axis": {"title": "LAMB1", "titleAngle": 0, "titleAlign": "left", "titleBaseline": "middle", "titleX": -78, "titleY": 37, "titleFont": "Liberation Sans Narrow, DejaVu Sans Condensed, sans-serif", "titleFontSize": 12, "titleFontWeight": "normal", "titleColor": "#111", "labelFont": "Liberation Sans Narrow, DejaVu Sans Condensed, sans-serif", "labelFontSize": 12, "labelFontWeight": "bold", "labelColor": "#111", "labelPadding": 5, "labelOffset": -1}}},
 "layer": [
  {"mark": {"type": "rect", "width": {"band": 0.64}, "color": "#d4d4d4"}},
  {"transform": [{"filter": "datum.mrna"}], "mark": {"type": "rect", "height": {"band": 1.1}}, "encoding": {"color": {"field": "mrna", "type": "nominal", "scale": {"domain": ["Missense","Truncating","Amplification","Deep Deletion","mRNA High","No alterations"], "range": ["#5db52f","#6e7f90","#e8231f","#1d4f9f","#f4a3a6","#d4d4d4"]}, "legend": null}}},
  {"transform": [{"filter": "datum.mrna"}], "mark": {"type": "rect", "width": {"band": 0.24}, "color": "#d9d9d9"}},
  {"transform": [{"filter": "datum.cna"}], "mark": {"type": "rect", "width": {"band": 0.64}}, "encoding": {"color": {"field": "cna", "type": "nominal", "scale": {"domain": ["Missense","Truncating","Amplification","Deep Deletion","mRNA High","No alterations"], "range": ["#5db52f","#6e7f90","#e8231f","#1d4f9f","#f4a3a6","#d4d4d4"]}, "legend": null}}},
  {"transform": [{"filter": "datum.mut"}], "mark": {"type": "rect", "width": {"band": 0.64}, "height": {"band": 0.33}}, "encoding": {"color": {"field": "mut", "type": "nominal", "scale": {"domain": ["Missense","Truncating","Amplification","Deep Deletion","mRNA High","No alterations"], "range": ["#5db52f","#6e7f90","#e8231f","#1d4f9f","#f4a3a6","#d4d4d4"]}, "legend": null}}}
 ]},
{"width": 690, "height": 46,
 "encoding": {"y": {"datum": "Genetic Alteration", "type": "nominal", "scale": {"paddingInner": 0, "paddingOuter": 0.5, "align": 1}, "axis": {"title": null, "labelAlign": "left", "labelPadding": 80, "labelLimit": 0, "labelFont": "Liberation Sans Narrow, DejaVu Sans Condensed, sans-serif", "labelFontSize": 11.3, "labelColor": "#111"}}},
 "resolve": {"scale": {"x": "independent"}},
 "layer": [
  {"data": {"values": [{"alt": "Missense", "label": "Missense Mutation (unknown significance)"}]},
   "encoding": {"x": {"field": "alt", "type": "nominal", "axis": null, "scale": {"paddingInner": 0.988338, "paddingOuter": 1, "align": 0.12099}}},
   "layer": [
    {"mark": {"type": "rect", "color": "#d4d4d4"}},
    {"mark": {"type": "rect", "height": {"band": 0.34}}, "encoding": {"color": {"field": "alt", "type": "nominal", "scale": {"domain": ["Missense","Truncating","Amplification","Deep Deletion","mRNA High","No alterations"], "range": ["#5db52f","#6e7f90","#e8231f","#1d4f9f","#f4a3a6","#d4d4d4"]}, "legend": null}}},
    {"mark": {"type": "text", "align": "left", "baseline": "middle", "dx": 4, "font": "Liberation Sans Narrow, DejaVu Sans Condensed, sans-serif", "fontSize": 9.3, "color": "#111"}, "encoding": {"x": {"field": "alt", "type": "nominal", "bandPosition": 1}, "text": {"field": "label"}}}
   ]},
  {"data": {"values": [{"alt": "Truncating", "label": "Truncating Mutation (unknown significance)"}]},
   "encoding": {"x": {"field": "alt", "type": "nominal", "axis": null, "scale": {"paddingInner": 0.988338, "paddingOuter": 1, "align": 0.40379}}},
   "layer": [
    {"mark": {"type": "rect", "color": "#d4d4d4"}},
    {"mark": {"type": "rect", "height": {"band": 0.34}}, "encoding": {"color": {"field": "alt", "type": "nominal", "scale": {"domain": ["Missense","Truncating","Amplification","Deep Deletion","mRNA High","No alterations"], "range": ["#5db52f","#6e7f90","#e8231f","#1d4f9f","#f4a3a6","#d4d4d4"]}, "legend": null}}},
    {"mark": {"type": "text", "align": "left", "baseline": "middle", "dx": 4, "font": "Liberation Sans Narrow, DejaVu Sans Condensed, sans-serif", "fontSize": 9.3, "color": "#111"}, "encoding": {"x": {"field": "alt", "type": "nominal", "bandPosition": 1}, "text": {"field": "label"}}}
   ]},
  {"data": {"values": [{"alt": "Amplification", "label": "Amplification"}]},
   "encoding": {"x": {"field": "alt", "type": "nominal", "axis": null, "scale": {"paddingInner": 0.988338, "paddingOuter": 1, "align": 0.69242}}},
   "layer": [
    {"mark": {"type": "rect"}, "encoding": {"color": {"field": "alt", "type": "nominal", "scale": {"domain": ["Missense","Truncating","Amplification","Deep Deletion","mRNA High","No alterations"], "range": ["#5db52f","#6e7f90","#e8231f","#1d4f9f","#f4a3a6","#d4d4d4"]}, "legend": null}}},
    {"mark": {"type": "text", "align": "left", "baseline": "middle", "dx": 5, "font": "Liberation Sans Narrow, DejaVu Sans Condensed, sans-serif", "fontSize": 9.3, "color": "#111"}, "encoding": {"x": {"field": "alt", "type": "nominal", "bandPosition": 1}, "text": {"field": "label"}}}
   ]},
  {"data": {"values": [{"alt": "mRNA High", "label": "mRNA High"}]},
   "encoding": {"x": {"field": "alt", "type": "nominal", "axis": null, "scale": {"paddingInner": 0.982456, "paddingOuter": 1, "align": 0.79971}}},
   "layer": [
    {"mark": {"type": "rect"}, "encoding": {"color": {"field": "alt", "type": "nominal", "scale": {"domain": ["Missense","Truncating","Amplification","Deep Deletion","mRNA High","No alterations"], "range": ["#5db52f","#6e7f90","#e8231f","#1d4f9f","#f4a3a6","#d4d4d4"]}, "legend": null}}},
    {"mark": {"type": "rect", "width": {"band": 0.4}, "height": {"band": 0.9}, "color": "#d9d9d9"}},
    {"mark": {"type": "text", "align": "left", "baseline": "middle", "dx": 3, "font": "Liberation Sans Narrow, DejaVu Sans Condensed, sans-serif", "fontSize": 9.3, "color": "#111"}, "encoding": {"x": {"field": "alt", "type": "nominal", "bandPosition": 1}, "text": {"field": "label"}}}
   ]},
  {"data": {"values": [{"alt": "No alterations", "label": "No alterations"}]},
   "encoding": {"x": {"field": "alt", "type": "nominal", "axis": null, "scale": {"paddingInner": 0.988338, "paddingOuter": 1, "align": 0.90087}}},
   "layer": [
    {"mark": {"type": "rect"}, "encoding": {"color": {"field": "alt", "type": "nominal", "scale": {"domain": ["Missense","Truncating","Amplification","Deep Deletion","mRNA High","No alterations"], "range": ["#5db52f","#6e7f90","#e8231f","#1d4f9f","#f4a3a6","#d4d4d4"]}, "legend": null}}},
    {"mark": {"type": "text", "align": "left", "baseline": "middle", "dx": 5, "font": "Liberation Sans Narrow, DejaVu Sans Condensed, sans-serif", "fontSize": 9.3, "color": "#111"}, "encoding": {"x": {"field": "alt", "type": "nominal", "bandPosition": 1}, "text": {"field": "label"}}}
   ]}
 ]},
{"width": 688.45, "height": 51, "data": {"name": "G"},
 "title": {"text": "G", "anchor": "start", "frame": "group", "orient": "top", "offset": 0, "dx": -93, "dy": 44.7, "baseline": "alphabetic", "font": "Liberation Sans", "fontSize": 14.5, "fontWeight": "normal", "color": "#111"},
 "encoding": {"x": {"field": "id", "type": "ordinal", "axis": null, "scale": {"paddingInner": 0, "paddingOuter": 0.997, "align": 1}},
  "y": {"datum": "3%", "type": "nominal", "scale": {"paddingInner": 0, "paddingOuter": 0.3226, "align": 1}, "axis": {"title": "THBS1", "titleAngle": 0, "titleAlign": "left", "titleBaseline": "middle", "titleX": -78, "titleY": 37, "titleFont": "Liberation Sans Narrow, DejaVu Sans Condensed, sans-serif", "titleFontSize": 12, "titleFontWeight": "normal", "titleColor": "#111", "labelFont": "Liberation Sans Narrow, DejaVu Sans Condensed, sans-serif", "labelFontSize": 12, "labelFontWeight": "bold", "labelColor": "#111", "labelPadding": -7, "labelOffset": 1.5}}},
 "layer": [
  {"mark": {"type": "rect", "width": {"band": 0.62}, "color": "#d4d4d4"}},
  {"transform": [{"filter": "datum.mrna"}], "mark": {"type": "rect", "height": {"band": 1.1}}, "encoding": {"color": {"field": "mrna", "type": "nominal", "scale": {"domain": ["Missense","Truncating","Amplification","Deep Deletion","mRNA High","No alterations"], "range": ["#5db52f","#6e7f90","#e8231f","#1d4f9f","#f4a3a6","#d4d4d4"]}, "legend": null}}},
  {"transform": [{"filter": "datum.mrna"}], "mark": {"type": "rect", "width": {"band": 0.24}, "color": "#d9d9d9"}},
  {"transform": [{"filter": "datum.cna"}], "mark": {"type": "rect", "width": {"band": 0.62}}, "encoding": {"color": {"field": "cna", "type": "nominal", "scale": {"domain": ["Missense","Truncating","Amplification","Deep Deletion","mRNA High","No alterations"], "range": ["#5db52f","#6e7f90","#e8231f","#1d4f9f","#f4a3a6","#d4d4d4"]}, "legend": null}}},
  {"transform": [{"filter": "datum.mut"}], "mark": {"type": "rect", "width": {"band": 0.62}, "height": {"band": 0.33}}, "encoding": {"color": {"field": "mut", "type": "nominal", "scale": {"domain": ["Missense","Truncating","Amplification","Deep Deletion","mRNA High","No alterations"], "range": ["#5db52f","#6e7f90","#e8231f","#1d4f9f","#f4a3a6","#d4d4d4"]}, "legend": null}}}
 ]},
{"width": 690, "height": 36,
 "encoding": {"y": {"datum": "Genetic Alteration", "type": "nominal", "scale": {"paddingInner": 0, "paddingOuter": 0.3182, "align": 1}, "axis": {"title": null, "labelAlign": "left", "labelPadding": 80, "labelLimit": 0, "labelFont": "Liberation Sans Narrow, DejaVu Sans Condensed, sans-serif", "labelFontSize": 11.3, "labelColor": "#111", "labelOffset": -2}}},
 "resolve": {"scale": {"x": "independent"}},
 "layer": [
  {"data": {"values": [{"alt": "Missense", "label": "Missense Mutation (unknown significance)"}]},
   "encoding": {"x": {"field": "alt", "type": "nominal", "axis": null, "scale": {"paddingInner": 0.98393, "paddingOuter": 1, "align": 0.16216}}},
   "layer": [
    {"mark": {"type": "rect", "color": "#d4d4d4"}},
    {"mark": {"type": "rect", "height": {"band": 0.34}}, "encoding": {"color": {"field": "alt", "type": "nominal", "scale": {"domain": ["Missense","Truncating","Amplification","Deep Deletion","mRNA High","No alterations"], "range": ["#5db52f","#6e7f90","#e8231f","#1d4f9f","#f4a3a6","#d4d4d4"]}, "legend": null}}},
    {"mark": {"type": "text", "align": "left", "baseline": "middle", "dx": 5, "font": "Liberation Sans Narrow, DejaVu Sans Condensed, sans-serif", "fontSize": 10.9, "color": "#111"}, "encoding": {"x": {"field": "alt", "type": "nominal", "bandPosition": 1}, "text": {"field": "label"}}}
   ]},
  {"data": {"values": [{"alt": "mRNA High", "label": "mRNA High"}]},
   "encoding": {"x": {"field": "alt", "type": "nominal", "axis": null, "scale": {"paddingInner": 0.979502, "paddingOuter": 1, "align": 0.49341}}},
   "layer": [
    {"mark": {"type": "rect"}, "encoding": {"color": {"field": "alt", "type": "nominal", "scale": {"domain": ["Missense","Truncating","Amplification","Deep Deletion","mRNA High","No alterations"], "range": ["#5db52f","#6e7f90","#e8231f","#1d4f9f","#f4a3a6","#d4d4d4"]}, "legend": null}}},
    {"mark": {"type": "rect", "width": {"band": 0.4}, "height": {"band": 0.9}, "color": "#d9d9d9"}},
    {"mark": {"type": "text", "align": "left", "baseline": "middle", "dx": 7, "font": "Liberation Sans Narrow, DejaVu Sans Condensed, sans-serif", "fontSize": 10.9, "color": "#111"}, "encoding": {"x": {"field": "alt", "type": "nominal", "bandPosition": 1}, "text": {"field": "label"}}}
   ]},
  {"data": {"values": [{"alt": "No alterations", "label": "No alterations"}]},
   "encoding": {"x": {"field": "alt", "type": "nominal", "axis": null, "scale": {"paddingInner": 0.98393, "paddingOuter": 1, "align": 0.61359}}},
   "layer": [
    {"mark": {"type": "rect"}, "encoding": {"color": {"field": "alt", "type": "nominal", "scale": {"domain": ["Missense","Truncating","Amplification","Deep Deletion","mRNA High","No alterations"], "range": ["#5db52f","#6e7f90","#e8231f","#1d4f9f","#f4a3a6","#d4d4d4"]}, "legend": null}}},
    {"mark": {"type": "text", "align": "left", "baseline": "middle", "dx": 7, "font": "Liberation Sans Narrow, DejaVu Sans Condensed, sans-serif", "fontSize": 10.9, "color": "#111"}, "encoding": {"x": {"field": "alt", "type": "nominal", "bandPosition": 1}, "text": {"field": "label"}}}
   ]}
 ]}
]
}
